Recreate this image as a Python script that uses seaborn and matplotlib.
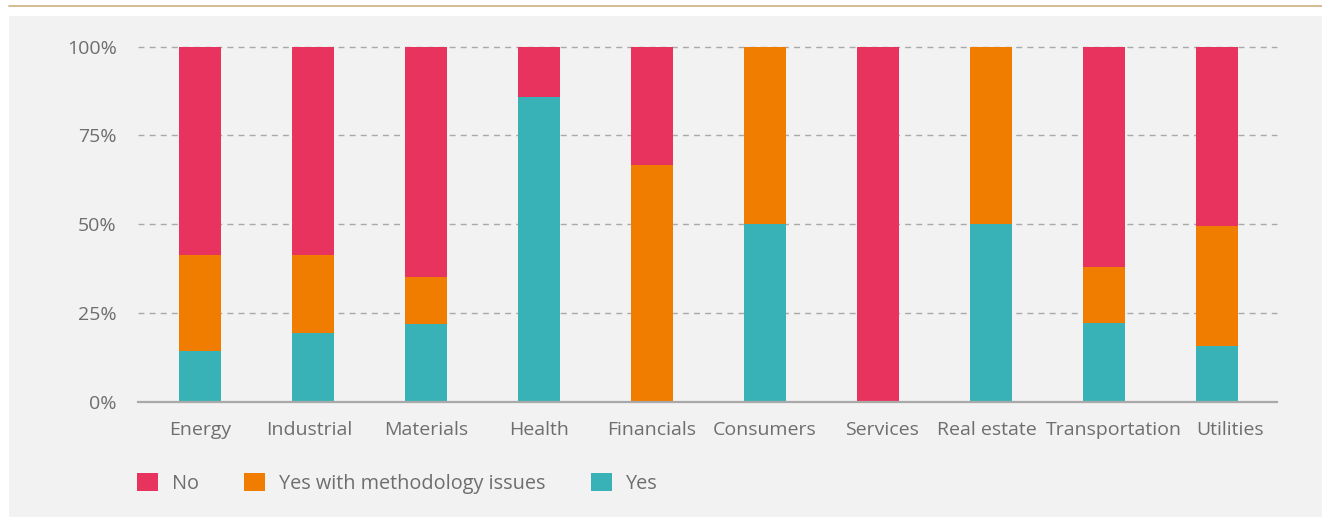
import matplotlib
matplotlib.use("Agg")
import matplotlib.pyplot as plt
from matplotlib.patches import Patch, Rectangle
from matplotlib.lines import Line2D
from matplotlib.transforms import ScaledTranslation
import numpy as np
import pandas as pd
import seaborn as sns

# Share of companies per sector (percent)
sectors = ["Energy", "Industrial", "Materials", "Health", "Financials",
           "Consumers", "Services", "Real estate", "Transportation", "Utilities"]
yes = [14.3, 19.3, 22.0, 85.8, 0.0, 50.0, 0.0, 50.0, 22.2, 15.7]
yes_method_issues = [27.0, 22.0, 13.1, 0.0, 66.7, 50.0, 0.0, 50.0, 15.7, 33.8]
no = [58.7, 58.7, 64.9, 14.2, 33.3, 0.0, 100.0, 0.0, 62.1, 50.5]

series_labels = ["No", "Yes with methodology issues", "Yes"]
colors = {"No": "#e8335e", "Yes with methodology issues": "#f07d00", "Yes": "#38b2b7"}

PANEL = "#f2f2f2"
TEXT = "#6e6e6e"
GRID = "#a9a9a9"

sns.set_theme(style="white")
plt.rcParams["font.family"] = ["Open Sans", "DejaVu Sans"]

df = pd.DataFrame({"sector": sectors, "yes": yes,
                   "method": yes_method_issues, "no": no})
df["top_yes"] = df["yes"]
df["top_method"] = df["yes"] + df["method"]
df["top_no"] = df["yes"] + df["method"] + df["no"]

fig = plt.figure(figsize=(13.22, 5.17), dpi=100, facecolor="white")

# grey panel behind the chart and the gold rule above it
fig.patches.append(Rectangle((9 / 1322, 0), 1 - 9 / 1322, 501 / 517,
                             transform=fig.transFigure, facecolor=PANEL,
                             edgecolor="none", zorder=-5))
fig.lines.append(Line2D([9 / 1322, 1], [1 - 5.5 / 517] * 2,
                        transform=fig.transFigure, color="#d2b688", lw=1.3,
                        zorder=-5))

ax = fig.add_axes([137.7 / 1322, 1 - 401.7 / 517, (1276.7 - 137.7) / 1322,
                   (401.7 - 46.7) / 517])
ax.set_facecolor(PANEL)

# stacked bars: cumulative layers drawn from the tallest down
for col, lab in [("top_no", "No"), ("top_method", "Yes with methodology issues"),
                 ("top_yes", "Yes")]:
    sns.barplot(data=df, x="sector", y=col, order=sectors, color=colors[lab],
                saturation=1, width=0.37, ax=ax, zorder=3, linewidth=0,
                errorbar=None)

ax.set_xlim(-0.55, 9.53)
ax.set_ylim(0, 100)
ax.set_yticks([0, 25, 50, 75, 100])
ax.set_yticklabels([f"{v}%" for v in [0, 25, 50, 75, 100]])
ax.set_xlabel("")
ax.set_ylabel("")

for v in [25, 50, 75, 100]:
    ax.axhline(v, color=GRID, lw=1.0, linestyle=(0, (4.3, 3.7)), zorder=1,
               clip_on=False)

for s in ["left", "right", "top"]:
    ax.spines[s].set_visible(False)
ax.spines["bottom"].set_color(GRID)
ax.spines["bottom"].set_linewidth(1.6)
ax.spines["bottom"].set_zorder(4)

ax.tick_params(axis="y", length=0, pad=15, labelsize=14, labelcolor=TEXT)
ax.tick_params(axis="x", length=0, pad=14, labelsize=14, labelcolor=TEXT)

# nudge crowded category labels apart (pixel offsets at 100 dpi)
nudges = {"Industrial": -4, "Services": 4, "Real estate": -4,
          "Transportation": 10, "Utilities": 13}
for lbl in ax.get_xticklabels():
    dx = nudges.get(lbl.get_text(), 0)
    if dx:
        lbl.set_transform(lbl.get_transform() +
                          ScaledTranslation(dx / 100, 0, fig.dpi_scale_trans))

handles = [Patch(facecolor=colors[l], edgecolor="none", label=l) for l in series_labels]
leg = fig.legend(handles=handles, loc="center left",
                 bbox_to_anchor=(137 / 1322, 1 - 483.5 / 517), ncol=3,
                 frameon=False, fontsize=14.3, labelcolor=TEXT,
                 handlelength=1.05, handleheight=1.05, handletextpad=0.7,
                 columnspacing=2.3, borderpad=0, borderaxespad=0)

fig.savefig("out.png", dpi=100, facecolor="white")
